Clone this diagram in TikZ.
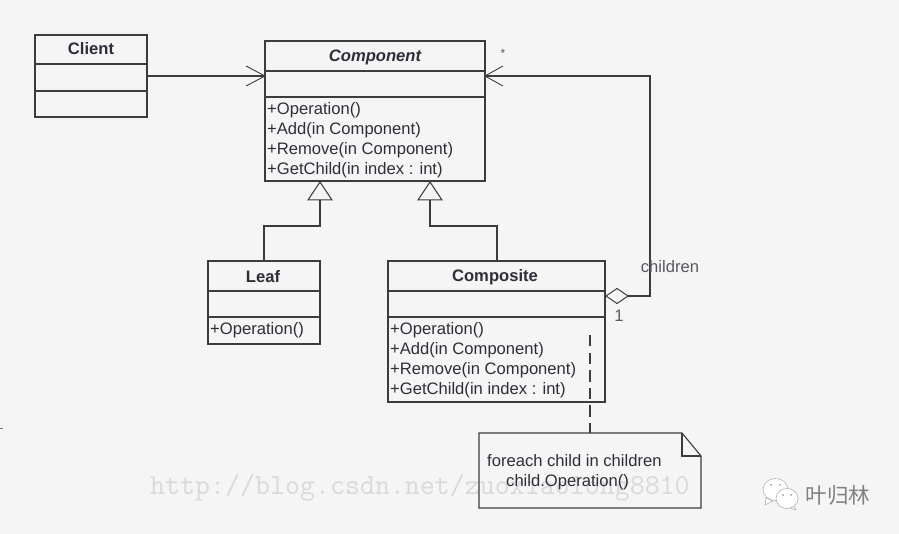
\documentclass[tikz,border=0pt]{standalone}
\usepackage{fontspec}
\setmainfont{Liberation Sans}
\newfontfamily\cjkfont{Noto Sans CJK SC}
\definecolor{bgc}{HTML}{F5F5F5}
\definecolor{linec}{HTML}{3C3C3C}
\definecolor{textc}{HTML}{2E2E38}
\tikzset{
  x=1pt,y=-1pt,
  umlbox/.style={draw=linec,line width=1.1pt,anchor=north west,inner sep=0pt,outer sep=0pt},
  sep/.style={draw=linec,line width=1.1pt},
  conn/.style={draw=linec,line width=1.1pt},
  opentip/.style={draw=linec,line width=0.9pt},
  title/.style={font=\bfseries\fontsize{16.6}{18}\selectfont,text=textc,inner sep=0pt},
  member/.style={font=\fontsize{16.6}{18}\selectfont,text=textc,anchor=west,inner sep=0pt},
  small/.style={font=\fontsize{16.6}{18}\selectfont,text=textc!80!white,inner sep=0pt},
  triangle/.style={draw=linec,line width=1pt,fill=bgc},
  watermark/.style={font=\ttfamily\fontsize{29.1}{30}\selectfont,text=black!15,anchor=base west,inner sep=0pt},
}
\begin{document}
\begin{tikzpicture}
\useasboundingbox (0,0) rectangle (899,534);
\fill[bgc] (0,0) rectangle (899,534);
\node[watermark] (wm) at (150,494) {http://blog.csdn.net/zuoxiaolong8810};

% Client
\node[umlbox,minimum width=112pt,minimum height=82pt] (client) at (35,35) {};
\draw[sep] (35,64) -- (147,64) (35,91) -- (147,91);
\node[title] (clientT) at (91,49) {Client};

% Component
\node[umlbox,minimum width=220pt,minimum height=140pt] (component) at (265,41) {};
\draw[sep] (265,71) -- (485,71) (265,97) -- (485,97);
\node[title,font=\bfseries\itshape\fontsize{16.6}{18}\selectfont] (componentT) at (375,57) {Component};
\node[member] (c1) at (267,110) {+Operation()};
\node[member] (c2) at (267,130) {+Add(in Component)};
\node[member] (c3) at (267,150) {+Remove(in Component)};
\node[member] (c4) at (267,170) {+GetChild(in index : int)};

% Leaf
\node[umlbox,minimum width=112pt,minimum height=83pt] (leaf) at (208,261) {};
\draw[sep] (208,291) -- (320,291) (208,317) -- (320,317);
\node[title] (leafT) at (263,277) {Leaf};
\node[member] (l1) at (210,330) {+Operation()};

% Composite
\node[umlbox,minimum width=217pt,minimum height=141pt] (composite) at (388,261) {};
\draw[sep] (388,291) -- (605,291) (388,317) -- (605,317);
\node[title] (compositeT) at (495,277) {Composite};
\node[member] (p1) at (390,330) {+Operation()};
\node[member] (p2) at (390,350) {+Add(in Component)};
\node[member] (p3) at (390,370) {+Remove(in Component)};
\node[member] (p4) at (390,390) {+GetChild(in index : int)};

% Note
\coordinate (noteAnchor) at (590,433);
\coordinate (noteStart) at (590,335);
\draw[linec,line width=1.1pt] (479,433) -- (682,433) -- (701,456) -- (701,508) -- (479,508) -- cycle;
\draw[linec,line width=1.4pt] (682,433) -- (682,456) -- (701,456);
\node[member] (n1) at (487,461) {foreach child in children};
\node[member] (n2) at (506,482) {child.Operation()};
\draw[conn,dash pattern=on 11.5pt off 6pt] (noteStart) -- (noteAnchor);

% Client -> Component
\coordinate (clientOut) at (147,76);
\coordinate (compIn) at (265,76);
\draw[conn] (clientOut) -- (compIn);
\draw[opentip] (246,66) -- (compIn) -- (246,86);

% Generalizations
\coordinate (tri1) at (320,182);
\coordinate (tri2) at (430,182);
\coordinate (tri1b) at (320,200);
\coordinate (tri2b) at (430,200);
\coordinate (leafTop) at (264,261);
\coordinate (compositeTop) at (497,261);
\draw[conn] (tri1b) -- (320,226) -| (leafTop);
\draw[conn] (tri2b) -- (430,226) -| (compositeTop);
\draw[triangle] (tri1) -- (332,200) -- (308,200) -- cycle;
\draw[triangle] (tri2) -- (442,200) -- (418,200) -- cycle;

% Aggregation
\coordinate (compRight) at (485,76);
\coordinate (diamondEnd) at (628,296);
\draw[conn] (diamondEnd) -- (650,296) -- (650,76) -- (compRight);
\draw[opentip] (503,66) -- (compRight) -- (503,86);
\draw[triangle] (606,296) -- (617,288.5) -- (diamondEnd) -- (617,303.5) -- cycle;
\node[small,font=\fontsize{12}{12}\selectfont] (star) at (503,53) {*};
\node[small] (children) at (670,267) {children};
\node[small] (one) at (619,316) {1};

% Logo
\begin{scope}[line width=0.6pt]
  \draw[gray!60,fill=white] (766,498) -- (765,505) -- (773,501) -- cycle;
  \draw[gray!60,fill=white] (775.5,489.5) ellipse (12.5 and 11);
  \draw[gray!60,fill=white] (793,505) -- (796,510) -- (788,507) -- cycle;
  \draw[gray!60,fill=white] (787,498.5) ellipse (11 and 10);
  \fill[gray] (771,485) circle (0.9) (780,485) circle (0.9) (783,495) circle (0.9) (791,495) circle (0.9);
\end{scope}
\node[font=\cjkfont\fontsize{21.5}{23}\selectfont,text=black!50,inner sep=0pt] (brand) at (838,495) {叶归林};
\draw[black!55,line width=0.6pt] (0,428) -- (3,428);
\end{tikzpicture}
\end{document}
